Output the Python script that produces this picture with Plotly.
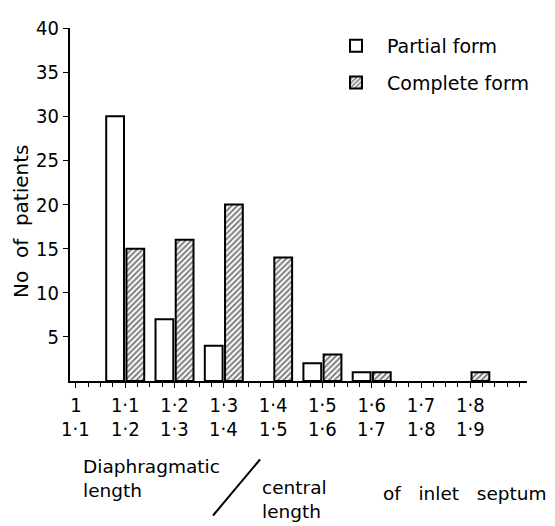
import plotly.graph_objects as go

# ---- data ----
lower_labels = ["1", "1·1", "1·2", "1·3", "1·4", "1·5", "1·6", "1·7", "1·8"]
upper_labels = ["1·1", "1·2", "1·3", "1·4", "1·5", "1·6", "1·7", "1·8", "1·9"]
partial_form = [0, 30, 7, 4, 0, 2, 1, 0, 0]
complete_form = [0, 15, 16, 20, 14, 3, 1, 0, 1]
y_ticks = [5, 10, 15, 20, 25, 30, 35, 40]

x_pos = list(range(len(lower_labels)))
# zero counts are not drawn as bars in the reference
partial_plot = [v if v else None for v in partial_form]
complete_plot = [v if v else None for v in complete_form]

TICK_FONT = dict(family="DejaVu Sans Condensed, Liberation Sans Narrow, Liberation Sans", size=20, color="black")
TEXT_FONT = dict(family="DejaVu Sans", size=18.5, color="black")

fig = go.Figure()
fig.add_trace(go.Bar(
    x=x_pos, y=partial_plot, name="Partial form", legendgroup="a",
    marker=dict(color="white", line=dict(color="black", width=2)),
))
fig.add_trace(go.Bar(
    x=x_pos, y=complete_plot, name="Complete form", legendgroup="b",
    marker=dict(color="white", line=dict(color="black", width=2),
                pattern=dict(shape="/", fgcolor="black", bgcolor="white", size=4, solidity=0.5)),
))

annotations = []
for xp, lab in zip(x_pos, upper_labels):
    annotations.append(dict(x=xp, y=-0.137, xref="x", yref="paper", text=lab,
                            showarrow=False, font=TICK_FONT, xanchor="center", yanchor="middle"))
annotations += [
    dict(x=0.024, y=-0.277, xref="paper", yref="paper", text="Diaphragmatic<br>length",
         showarrow=False, font=TEXT_FONT, xanchor="left", yanchor="middle", align="left"),
    dict(x=0.416, y=-0.336, xref="paper", yref="paper", text="central<br>length",
         showarrow=False, font=TEXT_FONT, xanchor="left", yanchor="middle", align="left"),
    dict(x=0.68, y=-0.318, xref="paper", yref="paper", text="of   inlet   septum",
         showarrow=False, font=TEXT_FONT, xanchor="left", yanchor="middle", align="left"),
    dict(x=-0.106, y=0.452, xref="paper", yref="paper", text="No  of  patients", textangle=-90,
         showarrow=False, font=dict(family="DejaVu Sans", size=20, color="black"),
         xanchor="center", yanchor="middle", borderpad=0),
]

fig.update_layout(
    width=547, height=518,
    margin=dict(l=62, r=28, t=8, b=145),
    paper_bgcolor="white", plot_bgcolor="white",
    barmode="group", bargap=0.18, bargroupgap=0.12,
    font=TEXT_FONT,
    legend=dict(x=0.558, y=1.003, xanchor="left", yanchor="top",
                font=dict(family="DejaVu Sans", size=19, color="black"),
                itemwidth=52, traceorder="grouped", tracegroupgap=9, bgcolor="rgba(0,0,0,0)"),
    annotations=annotations,
    shapes=[dict(type="line", xref="paper", yref="paper", x0=0.416, y0=-0.222, x1=0.313, y1=-0.381,
                 line=dict(color="black", width=2))],
)
fig.update_xaxes(
    range=[-0.12, 9.15], tickmode="array", tickvals=x_pos, ticktext=lower_labels,
    tickfont=TICK_FONT, showline=True, linecolor="black", linewidth=2,
    ticks="outside", ticklen=5, tickcolor="black", showgrid=False, zeroline=False,
    minor=dict(dtick=0.25, ticks="outside", ticklen=4, tickcolor="black", showgrid=False),
)
fig.update_yaxes(
    range=[0, 40], tickmode="array", tickvals=y_ticks, tickfont=TICK_FONT,
    ticklabeloverflow="allow",
    showline=True, linecolor="black", linewidth=2, ticks="outside", ticklen=5, tickcolor="black",
    showgrid=False, zeroline=False,
)

fig.write_html("out.html")
